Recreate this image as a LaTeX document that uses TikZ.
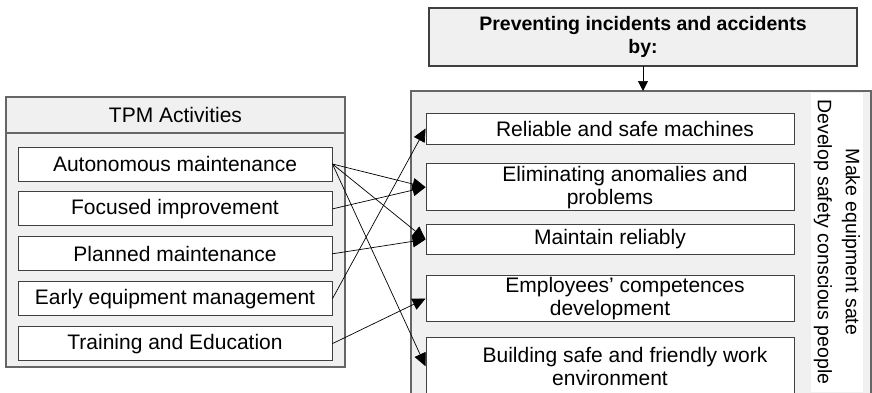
\documentclass[tikz,border=0pt]{standalone}
\usepackage{fontspec}
\setmainfont{Liberation Sans}
\usetikzlibrary{arrows.meta, positioning}

% first lines of some boxes sit a little to the right
\newcommand{\pushright}{\hspace*{30pt}}

\begin{document}
\begin{tikzpicture}[
    x=1pt, y=1pt,
    node distance=10pt,
    font=\fontsize{21}{23}\selectfont,
    panel/.style={rectangle, draw=black!60, fill=black!6, line width=1.1pt, outer sep=0pt},
    item/.style={rectangle, draw=black!75, fill=white, line width=0.9pt, align=center, inner sep=2pt},
    leftitem/.style={item, minimum width=314pt, minimum height=34pt},
    rightitem/.style={item, minimum width=368pt},
    arrow/.style={-{Triangle[length=13pt, width=12pt]}, line width=0.7pt}
]
\useasboundingbox (0,0) rectangle (872,392);

% goal
\node[panel, draw=black!75, line width=1.4pt, minimum width=428pt, minimum height=58pt,
      align=center, font=\fontsize{19.5}{23}\selectfont\bfseries] (goal) at (643,355)
      {Preventing incidents and accidents\\by:};

% TPM side
\node[panel, minimum width=339pt, minimum height=36pt] (tpmhead) at (175.5,277) {TPM Activities};
\node[panel, minimum width=339pt, minimum height=234pt, below=0pt of tpmhead] (tpmbody) {};

\node[leftitem] (a1) at (175,228) {Autonomous maintenance};
\node[leftitem, below=of a1] (a2) {Focused improvement};
\node[leftitem, below=of a2] (a3) {Planned maintenance};
\node[leftitem, below=of a3] (a4) {Early equipment management};
\node[leftitem, below=of a4] (a5) {Training and Education};

% means side
\node[panel, minimum width=460pt, minimum height=305pt, anchor=north] (means) at (641,301) {};
\node[fill=white, rotate=-90, minimum width=299pt, minimum height=51pt, align=center,
      font=\fontsize{19.5}{28}\selectfont] (aims) at (837,150)
      {Make equipment sate\\Develop safety conscious people};

\node[rightitem, minimum height=31pt] (r1) at (610,263.5) {\pushright Reliable and safe machines};
\node[rightitem, minimum height=41pt, below=19pt of r1] (r2) {\pushright Eliminating anomalies and\\problems};
\node[rightitem, minimum height=30pt, below=13pt of r2] (r3) {Maintain reliably};
\node[rightitem, minimum height=45pt, below=20pt of r3] (r4) {\pushright Employees’ competences\\development};
\node[rightitem, minimum height=57pt, below=15pt of r4] (r5) {\pushright Building safe and friendly work\\environment};

\draw[arrow, -{Triangle[length=10pt, width=10pt]}] (goal.south) -- (goal.south |- means.north);
\draw[arrow] (a1.east) -- (r2.west);
\draw[arrow] (a1.east) -- (r3.west);
\draw[arrow] (a1.east) -- (r5.west);
\draw[arrow] (a2.east) -- (r2.west);
\draw[arrow] (a3.east) -- (r3.west);
\draw[arrow] (a4.east) -- (r1.west);
\draw[arrow] (a5.east) -- (r4.west);

\end{tikzpicture}
\end{document}
